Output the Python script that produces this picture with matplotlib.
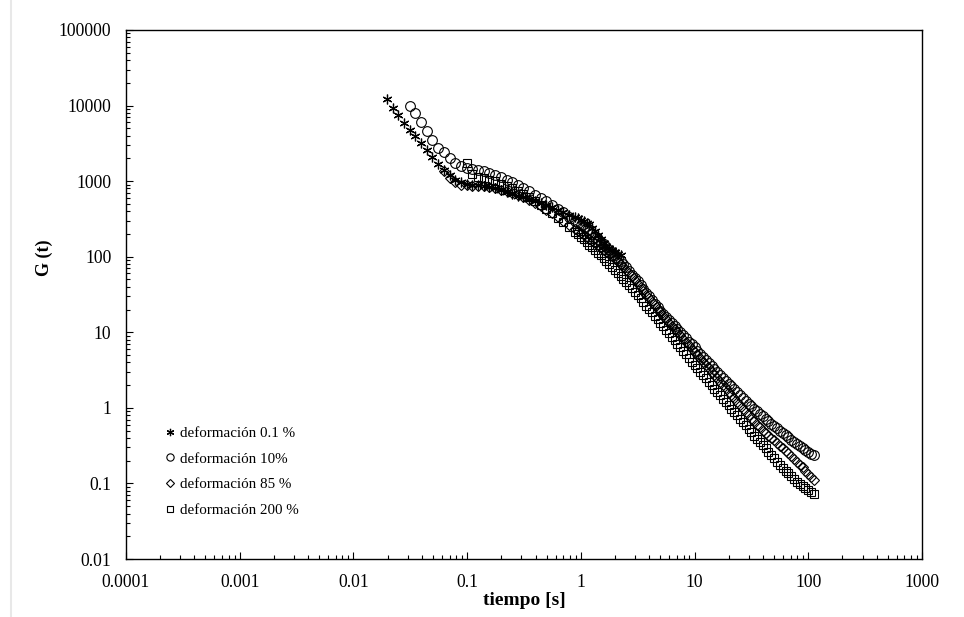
import matplotlib
matplotlib.use("Agg")
import matplotlib.pyplot as plt
from matplotlib.lines import Line2D
from matplotlib.ticker import FuncFormatter, LogLocator, NullFormatter

plt.rcParams['font.family'] = ['Liberation Serif', 'DejaVu Serif']

# sampling times [s]: coarse at short times, finer from ~1 s on
t_grid = [0.0197, 0.0221, 0.0248, 0.0279, 0.0313, 0.0351, 0.0394, 0.0442, 0.0496, 0.0556,
          0.0624, 0.0700, 0.0786, 0.0882, 0.0990, 0.111, 0.125, 0.140, 0.157, 0.176,
          0.198, 0.222, 0.249, 0.279, 0.313, 0.352, 0.394, 0.443, 0.497, 0.557,
          0.625, 0.702, 0.787, 0.883,
          0.944, 1.000, 1.059, 1.122, 1.189, 1.259, 1.334, 1.413, 1.496, 1.585,
          1.679, 1.778, 1.884, 1.995, 2.113, 2.239, 2.371, 2.512, 2.661, 2.818,
          2.985, 3.162, 3.350, 3.548, 3.758, 3.981, 4.217, 4.467, 4.732, 5.012,
          5.309, 5.623, 5.957, 6.310, 6.683, 7.079, 7.499, 7.943, 8.414, 8.913,
          9.441, 10.00, 10.59, 11.22, 11.89, 12.59, 13.34, 14.13, 14.96, 15.85,
          16.79, 17.78, 18.84, 19.95, 21.13, 22.39, 23.71, 25.12, 26.61, 28.18,
          29.85, 31.62, 33.50, 35.48, 37.58, 39.81, 42.17, 44.67, 47.32, 50.12,
          53.09, 56.23, 59.57, 63.10, 66.83, 70.79, 74.99, 79.43, 84.14, 89.13,
          94.41, 100.0, 105.9, 112.2]

# relaxation modulus G(t) for each strain
g_01 = [12200, 9300, 7400, 5800, 4700, 3900, 3150, 2600, 2080, 1700,
        1420, 1200, 1050, 960, 920, 900, 880, 860, 840, 800,
        760, 720, 680, 640, 610, 580, 550, 520, 490, 455,
        420, 390, 360, 335,
        322, 310, 298, 283, 268, 243, 218, 195, 173, 153,
        140, 129, 121, 114, 109, 106]

g_10 = [9800, 8000, 6000, 4650, 3450, 2780, 2400, 2000, 1750, 1600,
        1500, 1450, 1400, 1350, 1280, 1200, 1120, 1040, 960, 880,
        800, 730, 660, 600, 540, 480, 430, 385, 340, 300,
        280, 262, 246, 228, 214, 199, 185, 170, 158, 146,
        136, 124, 115, 105, 96, 87, 80, 72, 65, 58,
        52, 47, 42, 37.5, 33.5, 30, 27, 24, 21.5, 19.3,
        17.5, 15.8, 14.4, 13.1, 12.0, 10.9, 10.0, 9.1, 8.3, 7.5,
        6.9, 6.3, 5.7, 5.2, 4.7, 4.3, 3.9, 3.55, 3.25, 2.97,
        2.72, 2.5, 2.3, 2.1, 1.93, 1.77, 1.62, 1.49, 1.37, 1.25,
        1.14, 1.05, 0.97, 0.9, 0.84, 0.78, 0.72, 0.67, 0.62, 0.58,
        0.54, 0.5, 0.47, 0.44, 0.41, 0.38, 0.355, 0.33, 0.31, 0.29,
        0.275, 0.26, 0.245, 0.235]

g_85 = [1350, 1100, 960, 900, 880, 870, 860, 850, 830, 800,
        770, 740, 700, 660, 620, 570, 520, 470, 420, 375,
        335, 300, 265, 235,
        220, 206, 194, 182, 171, 161, 151, 141, 132, 123,
        116, 108, 101, 94, 87, 80, 74, 67, 61, 55,
        49.5, 44, 39.5, 35.5, 31.5, 28.5, 25.5, 23, 20.5, 18.3,
        16.5, 14.8, 13.4, 12.1, 11, 10, 9.1, 8.2, 7.4, 6.7,
        6.1, 5.55, 5.0, 4.55, 4.1, 3.7, 3.35, 3.0, 2.72, 2.45,
        2.22, 2.0, 1.81, 1.63, 1.47, 1.33, 1.2, 1.08, 0.97, 0.88,
        0.8, 0.72, 0.66, 0.6, 0.55, 0.5, 0.46, 0.43, 0.4, 0.37,
        0.34, 0.315, 0.29, 0.27, 0.25, 0.23, 0.212, 0.195, 0.178, 0.163,
        0.148, 0.135, 0.123, 0.112]

g_200 = [1740, 1250, 1150, 1100, 1050, 990, 930, 870, 800, 740,
         680, 610, 550, 490, 430, 380, 330, 290, 250, 215,
         198, 184, 170, 157, 145, 134, 123, 113, 104, 95,
         87, 80, 73, 67, 61, 56, 51, 46, 42, 38,
         34.5, 31, 28, 25, 22.5, 20.5, 18.3, 16.5, 14.8, 13.3,
         12, 10.8, 9.7, 8.7, 7.8, 7.0, 6.3, 5.7, 5.1, 4.6,
         4.1, 3.7, 3.35, 3.0, 2.72, 2.45, 2.2, 2.0, 1.8, 1.62,
         1.46, 1.32, 1.2, 1.08, 0.97, 0.88, 0.8, 0.72, 0.65, 0.59,
         0.53, 0.48, 0.43, 0.39, 0.355, 0.32, 0.29, 0.26, 0.235, 0.215,
         0.195, 0.178, 0.162, 0.148, 0.136, 0.125, 0.115, 0.106, 0.098, 0.092,
         0.086, 0.081, 0.077, 0.073]

labels = ['deformación 0.1 %', 'deformación 10%', 'deformación 85 %', 'deformación 200 %']

fig = plt.figure(figsize=(9.64, 6.17), dpi=100)
ax = fig.add_axes([0.1307, 0.094, 0.8257, 0.8574])

ax.plot(t_grid[:len(g_01)], g_01, ls='none', marker=(6, 2, 0), ms=7, mew=0.9,
        color='black', label=labels[0])
ax.plot(t_grid[4:], g_10, ls='none', marker='o', ms=7, mew=0.8,
        mfc='none', mec='black', label=labels[1])
ax.plot(t_grid[10:], g_85, ls='none', marker='D', ms=5, mew=0.8,
        mfc='none', mec='black', label=labels[2])
ax.plot(t_grid[14:], g_200, ls='none', marker='s', ms=5.5, mew=0.8,
        mfc='none', mec='black', label=labels[3])

ax.set_xscale('log')
ax.set_yscale('log')
ax.set_xlim(1e-4, 1e3)
ax.set_ylim(1e-2, 1e5)

fmt = FuncFormatter(lambda v, p: '{:g}'.format(v))
for axis in (ax.xaxis, ax.yaxis):
    axis.set_major_locator(LogLocator(base=10, numticks=20))
    axis.set_minor_locator(LogLocator(base=10, subs=range(2, 10), numticks=20))
    axis.set_major_formatter(fmt)
    axis.set_minor_formatter(NullFormatter())

ax.tick_params(which='both', direction='in', top=False, right=False, labelsize=12.7)
ax.tick_params(which='major', length=5, width=0.8)
ax.tick_params(which='minor', length=3, width=0.8)
ax.tick_params(axis='x', pad=11)
ax.tick_params(axis='y', pad=10.5)
for sp in ax.spines.values():
    sp.set_linewidth(1.0)

ax.set_xlabel('tiempo [s]', fontsize=14, fontweight='bold')
ax.set_ylabel('G (t)', fontsize=13, fontweight='bold')
ax.xaxis.set_label_coords(0.5, -0.062)
ax.yaxis.set_label_coords(-0.092, 0.57)

ax.legend(loc='upper left', bbox_to_anchor=(0.042, 0.262), frameon=False,
          fontsize=10.8, handlelength=0.6, handletextpad=0.37, labelspacing=0.82,
          markerscale=0.75, borderaxespad=0)

# thin grey edge on the left of the page
fig.add_artist(Line2D([0.011, 0.011], [0.0, 1.0], transform=fig.transFigure,
                      color='#e8e8e8', lw=1.5))

fig.savefig('out.png', dpi=100)
